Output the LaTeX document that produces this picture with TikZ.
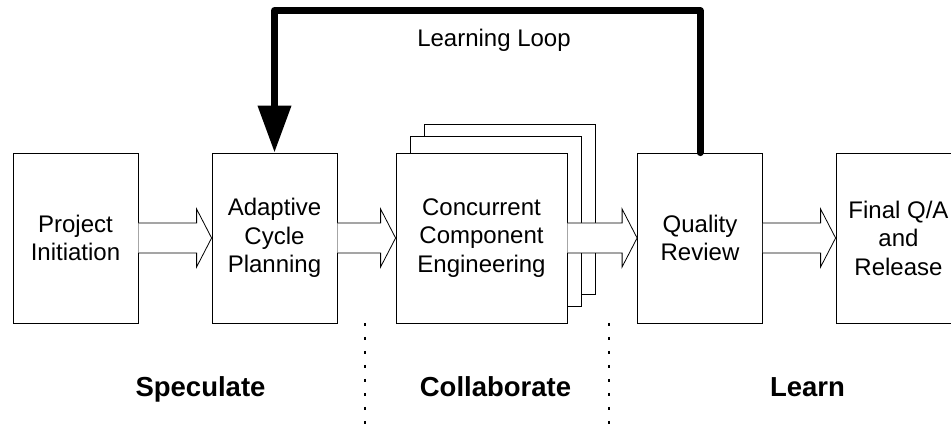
\documentclass[tikz,border=0pt]{standalone}
\usepackage{fontspec}
\setmainfont{Liberation Sans}
\usetikzlibrary{arrows.meta}

\begin{document}
\begin{tikzpicture}[x=1pt,y=-1pt,
  phase/.style={draw,fill=white,line width=0.8pt,minimum width=125pt,minimum height=170pt,inner sep=0pt,align=center,font=\fontsize{24}{28.5}\selectfont},
  fat/.style={draw,fill=white,line width=0.8pt},
  learn/.style={line width=7pt,line cap=round,line join=round,-{Triangle[width=32pt,length=47pt]}},
  sep/.style={line width=2pt,dash pattern=on 3.5pt off 10.5pt},
  stage/.style={anchor=base,inner sep=0pt,font=\fontsize{27.5}{32}\selectfont\bfseries}]
\useasboundingbox (0,0) rectangle (951,427);
\node[phase,minimum width=171pt] (C3) at (509.5,209.5) {};
\node[phase,minimum width=171pt] (C2) at (495.5,221) {};
\node[phase] (A) at (75.5,238) {Project\\Initiation};
\node[phase] (B) at (274.5,238) {Adaptive\\Cycle\\Planning};
\node[phase,minimum width=171pt] (C) at (481.5,238) {Concurrent\\Component\\Engineering};
\node[phase] (D) at (700,238) {Quality\\Review};
\node[phase] (E) at (898.5,238) {Final Q/A\\and\\Release};
\foreach \u/\v in {A/B,B/C,C/D,D/E}
  \draw[fat] ([yshift=15pt]\u.east) -- ([xshift=-15pt,yshift=15pt]\v.west) -- ([xshift=-15pt,yshift=29pt]\v.west) -- (\v.west) -- ([xshift=-15pt,yshift=-29pt]\v.west) -- ([xshift=-15pt,yshift=-15pt]\v.west) -- ([yshift=-15pt]\u.east);
\coordinate (top) at (0,10.5);
\draw[learn] (D.north) -- (D.north |- top) -- (B.north |- top) -- (B.north);
\node[anchor=base,font=\fontsize{24}{28.5}\selectfont] (L) at (494,47) {Learning Loop};
\node[stage] (S) at (200.5,397) {Speculate};
\node[stage] (K) at (495.5,397) {Collaborate};
\node[stage] (R) at (807.5,397) {Learn};
\coordinate (d1) at (365,323);
\coordinate (d2) at (609,323);
\draw[sep] (d1) -- (d1 |- 0,427);
\draw[sep] (d2) -- (d2 |- 0,427);
\end{tikzpicture}
\end{document}
